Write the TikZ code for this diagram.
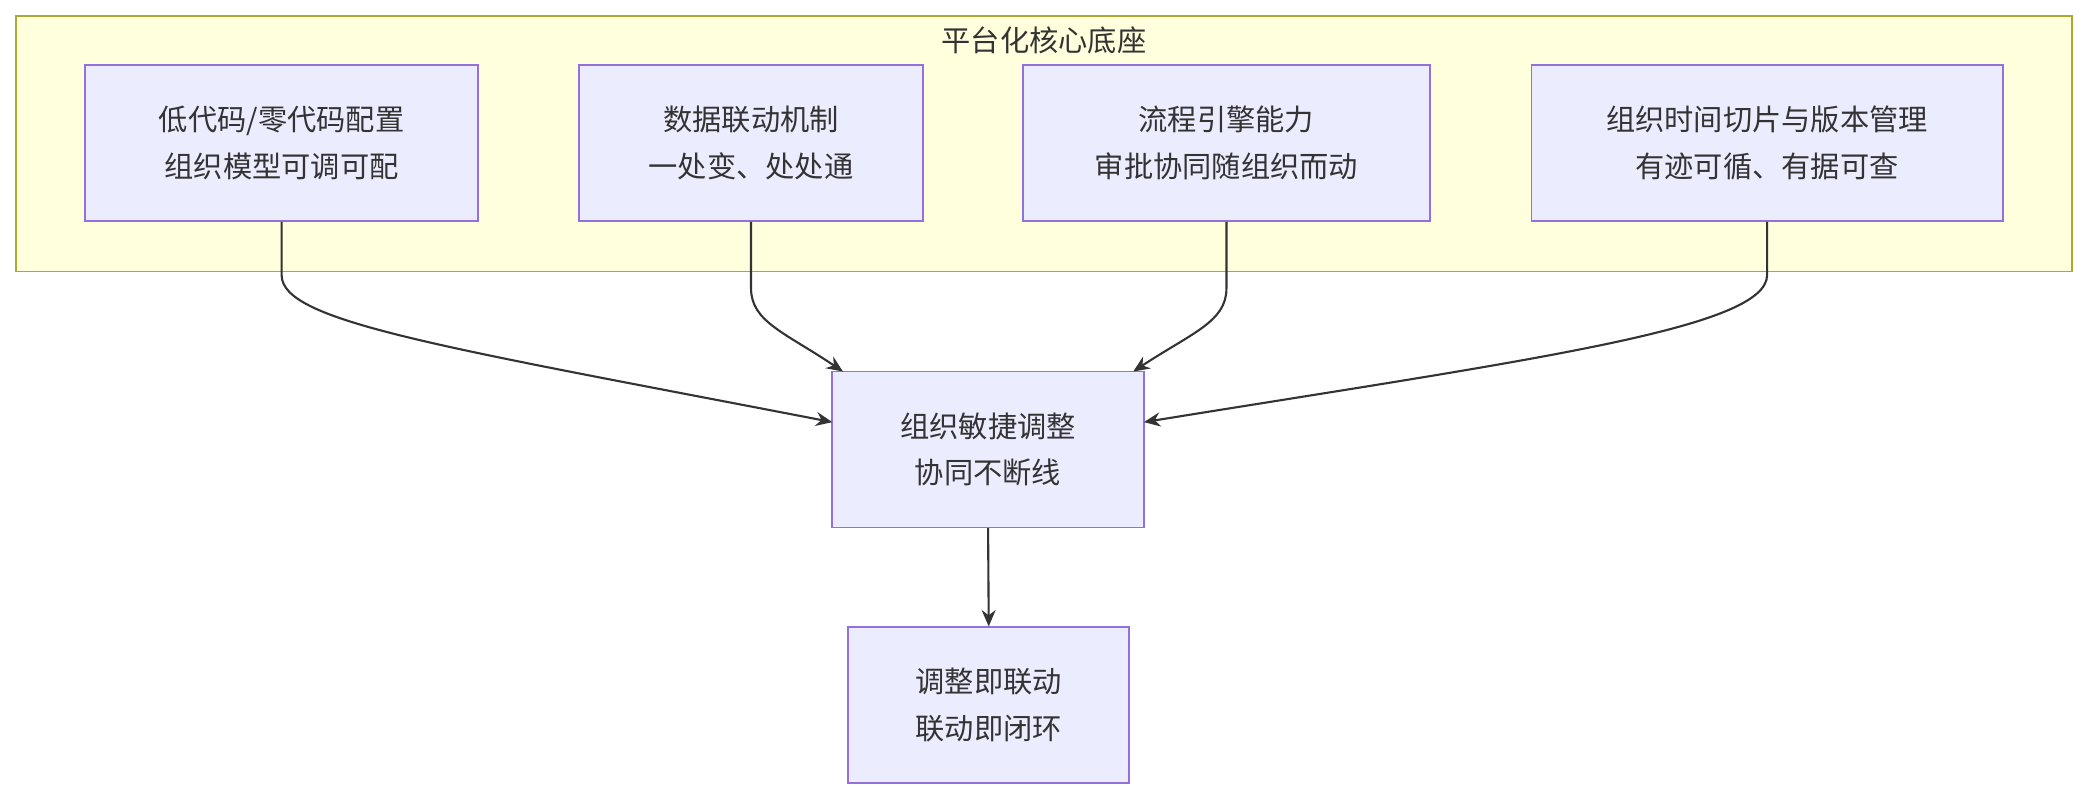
\documentclass[tikz,border=0pt]{standalone}
\usepackage{fontspec}
\newfontfamily\cjk{Noto Sans CJK SC}
\usetikzlibrary{arrows.meta}
\definecolor{boxfill}{HTML}{ECECFF}
\definecolor{boxline}{HTML}{9370DB}
\definecolor{clfill}{HTML}{FFFFDE}
\definecolor{clline}{HTML}{AAAA33}
\definecolor{edge}{HTML}{333333}
\begin{document}
\begin{tikzpicture}[x=0.02cm,y=-0.02cm,
  box/.style={draw=boxline,fill=boxfill,line width=0.7pt,inner sep=0,align=center,font=\cjk\fontsize{12.5}{20}\selectfont,text=edge},
  link/.style={draw=edge,line width=0.9pt,-{Stealth[length=7pt,width=6pt]}}]
\useasboundingbox (0,0) rectangle (1568,600);
\node[draw=clline,fill=clfill,line width=0.7pt,minimum width=1544*0.02cm,minimum height=192*0.02cm,inner sep=0] (cl) at (784,108) {};
\node[font=\cjk\fontsize{12.5}{15}\selectfont,text=edge] (t) at (784,30) {平台化核心底座};
\node[box,minimum width=295*0.02cm,minimum height=117*0.02cm] (b1) at (211.5,107.5) {低代码/零代码配置\\组织模型可调可配};
\node[box,minimum width=258*0.02cm,minimum height=117*0.02cm] (b2) at (564,107.5) {数据联动机制\\一处变、处处通};
\node[box,minimum width=306*0.02cm,minimum height=117*0.02cm] (b3) at (921,107.5) {流程引擎能力\\审批协同随组织而动};
\node[box,minimum width=354*0.02cm,minimum height=117*0.02cm] (b4) at (1327,107.5) {组织时间切片与版本管理\\有迹可循、有据可查};
\node[box,minimum width=234*0.02cm,minimum height=117*0.02cm] (c) at (742,337.5) {组织敏捷调整\\协同不断线};
\node[box,minimum width=211*0.02cm,minimum height=117*0.02cm] (d) at (742.5,529.5) {调整即联动\\联动即闭环};
\coordinate (c1) at (625,317);
\coordinate (c2) at (633,279);
\coordinate (c3) at (851,279);
\coordinate (c4) at (859,317);
\draw[link] (b1.south) -- ++(0,40) .. controls +(0,35) and (330,260) .. (c1);
\draw[link] (b2.south) -- ++(0,50) .. controls +(0,25) and (590,250) .. (c2);
\draw[link] (b3.south) -- ++(0,50) .. controls +(0,25) and (895,250) .. (c3);
\draw[link] (b4.south) -- ++(0,40) .. controls +(0,40) and (1150,270) .. (c4);
\draw[link] (c.south) -- (d.north);
\end{tikzpicture}
\end{document}
